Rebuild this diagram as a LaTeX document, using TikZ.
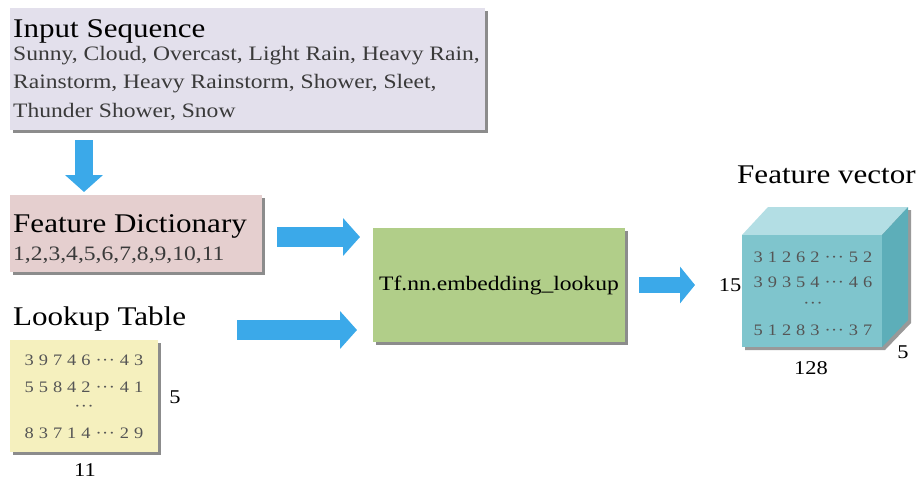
\documentclass[tikz,border=0pt]{standalone}
\usepackage{fontspec}
\setmainfont{Liberation Serif}[FakeStretch=1.15]
\usetikzlibrary{arrows.meta,shadows}
\definecolor{lav}{HTML}{E3E0EC}
\definecolor{pinkbox}{HTML}{E5CFCF}
\definecolor{greenbox}{HTML}{B1CE89}
\definecolor{yelbox}{HTML}{F5F0BE}
\definecolor{arrowblue}{HTML}{3BA9E9}
\definecolor{cubefront}{HTML}{7FC5CD}
\definecolor{cubetop}{HTML}{B3DEE4}
\definecolor{cubeside}{HTML}{5DAEB9}
\definecolor{bodygray}{HTML}{3A3A3A}
\definecolor{numgray}{HTML}{555555}
\newcommand\gp{\hspace{5pt}}
\newcommand\dts{\textperiodcentered\kern0.5pt\textperiodcentered\kern0.5pt\textperiodcentered}
\tikzset{
 panel/.style={draw=none, anchor=north west, inner sep=0pt, outer sep=0pt,
   drop shadow={shadow xshift=2.5pt, shadow yshift=-2.5pt, fill=black, opacity=0.45}},
 ttl/.style={anchor=base west, inner sep=0pt, font=\fontsize{27}{30}\selectfont, text=black},
 body/.style={anchor=base west, inner sep=0pt, font=\fontsize{20.5}{24}\selectfont, text=bodygray},
 nums/.style={anchor=base, inner sep=0pt, font=\fontsize{16}{18}\selectfont, text=numgray},
 dimlabel/.style={inner sep=0pt, font=\fontsize{19.5}{22}\selectfont, text=black},
 bigarrow/.style={draw=arrowblue, line width=19pt, -{Triangle[length=17pt,width=37pt]}},
}
\begin{document}
\begin{tikzpicture}[x=1pt,y=-1pt]
\useasboundingbox (0,0) rectangle (917,479);
% panels
\node[panel, fill=lav, minimum width=475pt, minimum height=122pt] (inbox) at (10,8) {};
\node[panel, fill=pinkbox, minimum width=252pt, minimum height=77pt] (fdbox) at (10,195) {};
\node[panel, fill=greenbox, minimum width=252pt, minimum height=114pt] (green) at (373,228) {};
\node[panel, fill=yelbox, minimum width=148pt, minimum height=112pt] (ltbox) at (10,340) {};
% input sequence text
\node[ttl] (inttl) at (13,37) {Input Sequence};
\node[body] (inl1) at (13,60) {Sunny, Cloud, Overcast, Light Rain, Heavy Rain,};
\node[body] (inl2) at (13,88.5) {Rainstorm, Heavy Rainstorm, Shower, Sleet,};
\node[body] (inl3) at (13,117) {Thunder Shower, Snow};
% feature dictionary text
\node[ttl] (fdttl) at (13,232) {Feature Dictionary};
\node[body] (fdnum) at (13,260) {1,2,3,4,5,6,7,8,9,10,11};
% lookup table
\node[ttl] (ltttl) at (13,325) {Lookup Table};
\node[nums] (lr1) at (84,365) {3\gp9\gp7\gp4\gp6\gp\dts\gp4\gp3};
\node[nums] (lr2) at (84,392) {5\gp5\gp8\gp4\gp2\gp\dts\gp4\gp1};
\node[nums] (lr3) at (84,411.5) {\dts};
\node[nums] (lr4) at (84,438) {8\gp3\gp7\gp1\gp4\gp\dts\gp2\gp9};
\node[dimlabel] (lt5) at (175,397) {5};
\node[dimlabel] (lt11) at (85,470) {11};
% green box text
\node[inner sep=0pt, font=\fontsize{20.5}{24}\selectfont] (embtxt) at (green.center) {Tf.nn.embedding\_lookup};
% cube
\fill[black, opacity=0.4] (745,238) -- (771,210) -- (911,210) -- (911,323) -- (885,350) -- (745,350) -- cycle;
\fill[cubetop] (742,235) -- (768,207) -- (908,207) -- (882,235) -- cycle;
\fill[cubeside] (882,235) -- (908,207) -- (908,320) -- (882,347) -- cycle;
\node[draw=none, fill=cubefront, anchor=north west, inner sep=0pt, minimum width=140pt, minimum height=112pt] (cube) at (742,235) {};
\node[ttl] (fvttl) at (737,183) {Feature vector};
\node[nums] (cr1) at (813,262) {3\gp1\gp2\gp6\gp2\gp\dts\gp5\gp2};
\node[nums] (cr2) at (813,287) {3\gp9\gp3\gp5\gp4\gp\dts\gp4\gp6};
\node[nums] (cr3) at (813,308) {\dts};
\node[nums] (cr4) at (813,335) {5\gp1\gp2\gp8\gp3\gp\dts\gp3\gp7};
\node[dimlabel] (c15) at (730,285) {15};
\node[dimlabel] (c128) at (811,368) {128};
\node[dimlabel] (c5) at (903,352) {5};
% arrows
\coordinate (a2s) at (237,330);
\draw[bigarrow, line width=18pt] ([yshift=-10pt]inbox.south -| 84,0) -- ([yshift=3pt]fdbox.north -| 84,0);
\draw[bigarrow, line width=20pt] ([xshift=15pt,yshift=-3.5pt]fdbox.east) -- ([xshift=-13pt,yshift=-3.5pt]fdbox.east -| green.west);
\draw[bigarrow, line width=20pt] (a2s) -- ([xshift=-16pt]a2s -| green.west);
\draw[bigarrow, line width=16pt, -{Triangle[length=15pt,width=36pt]}] ([xshift=14pt]green.east |- 0,285) -- ([xshift=-47pt]cube.west |- 0,285);
\end{tikzpicture}
\end{document}
